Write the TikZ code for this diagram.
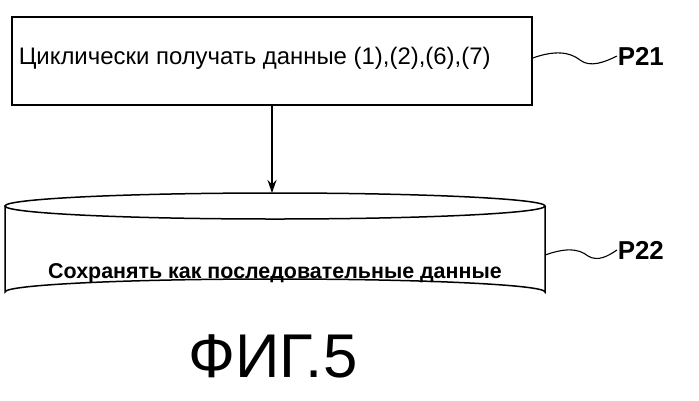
\documentclass[tikz,border=0pt]{standalone}
\usepackage{fontspec}
\setmainfont{Liberation Sans}
\usetikzlibrary{arrows.meta}
\begin{document}
\begin{tikzpicture}[x=1bp,y=-1bp,line width=1.5bp,
  txt/.style={font=\fontsize{24}{28}\selectfont,inner sep=0},
  lbl/.style={font=\bfseries\fontsize{26}{28}\selectfont,inner sep=0,anchor=west}]
\useasboundingbox (0,0) rectangle (699,400);
\node[draw,minimum width=520bp,minimum height=88bp,inner sep=0] (box) at (272,61) {};
\node[txt,anchor=west] (t1) at (18,58) {Циклически получать данные (1),(2),(6),(7)};
% cylinder
\draw (5,206) -- (5,292) arc[start angle=180,end angle=360,x radius=270,y radius=13] -- (545,206);
\draw (275,206) ellipse[x radius=270,y radius=13];
\coordinate (ctop) at (272,193);
\coordinate (cright) at (545,255);
\node[txt,font=\bfseries\fontsize{21.5}{28}\selectfont] (t2) at (275,273) {Сохранять как последовательные данные};
\draw[-{Stealth[length=13bp,width=9bp]}] (box.south -| ctop) -- (ctop);
% labels
\node[lbl] (p21) at (617,56) {P21};
\node[lbl] (p22) at (617,250) {P22};
\draw[line width=1.1bp] (box.east |- 0,58) .. controls (555,50) and (570,52) .. (580,60) .. controls (590,68) and (605,62) .. (p21.west);
\draw[line width=1.1bp] (cright) .. controls (565,248) and (578,248) .. (588,256) .. controls (598,262) and (608,256) .. (p22.west);
\node[font=\fontsize{62}{66}\selectfont,inner sep=0] (fig) at (273,356) {ФИГ.5};
\end{tikzpicture}
\end{document}
